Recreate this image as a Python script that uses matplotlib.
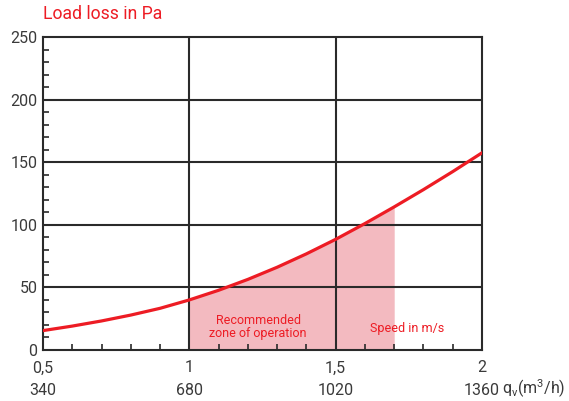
import numpy as np
import matplotlib
matplotlib.use("Agg")
from matplotlib import pyplot as plt
from matplotlib.ticker import MultipleLocator

plt.rcParams['font.family'] = ['Roboto', 'DejaVu Sans']
plt.rcParams['mathtext.fontset'] = 'custom'
plt.rcParams['mathtext.rm'] = 'Roboto'

# speed in m/s vs load loss in Pa
speed = [0.5, 0.6, 0.7, 0.8, 0.9, 1.0, 1.1, 1.2, 1.3, 1.4, 1.5, 1.6, 1.7, 1.8, 1.9, 2.0]
loss = [15.5, 19.1, 23.2, 27.9, 33.3, 40.0, 47.7, 56.4, 66.1, 76.8, 88.4, 101.0, 114.3, 128.1, 142.5, 157.5]

# recommended zone of operation
zone_lo = 1.0
zone_hi = 1.7

xticks = [0.5, 1.0, 1.5, 2.0]
xlabels = ["0,5\n340", "1\n680", "1,5\n1020", "2\n1360"]
yticks = [0, 50, 100, 150, 200, 250]

red = '#ed1c24'
pink = '#f3bac0'
dark = '#2a2a2a'
grey = '#3a3a3a'

fig = plt.figure(figsize=(5.69, 4.01), dpi=100)
ax = fig.add_axes([43/569, 1-350/401, (482-43)/569, (350-37)/401])

x = np.array(speed)
y = np.array(loss)
m = (x >= zone_lo) & (x <= zone_hi)
ax.fill_between(x[m], 0, y[m], color=pink, lw=0, zorder=1)

# grid
for gx in [1.0, 1.5]:
    ax.axvline(gx, color=dark, lw=1.5, zorder=2)
for gy in [50, 100, 150, 200]:
    ax.axhline(gy, color=dark, lw=1.5, zorder=2)

ax.plot(x, y, color=red, lw=2.3, zorder=3, solid_joinstyle='round')

ax.set_xlim(0.5, 2.0)
ax.set_ylim(0, 250)
for s in ax.spines.values():
    s.set_color(dark)
    s.set_linewidth(1.5)

ax.set_xticks(xticks)
ax.set_xticklabels(xlabels)
ax.set_yticks(yticks)
ax.xaxis.set_minor_locator(MultipleLocator(0.1))
ax.yaxis.set_minor_locator(MultipleLocator(10))
ax.tick_params(axis='both', which='major', length=0, labelsize=11.5, labelcolor=grey)
ax.tick_params(axis='x', which='major', pad=7.5)
ax.tick_params(axis='y', which='major', pad=4)
ax.tick_params(axis='both', which='minor', direction='in', length=4, width=1.2, color=dark)
for lab in ax.get_xticklabels():
    lab.set_linespacing(1.6)

fig.text(43/569, 1-14/401, "Load loss in Pa", color=red, fontsize=12.7,
         ha='left', va='center')
fig.text(502/569, 1-389/401, r"q$_\mathrm{v}$(m$^3$/h)", color=grey, fontsize=11.5,
         ha='left', va='center')

ax.text(1.235, 18, "Recommended\nzone of operation", color=red, fontsize=9,
        ha='center', va='center', linespacing=1.0, zorder=4)
ax.text(1.745, 17, "Speed in m/s", color=red, fontsize=9,
        ha='center', va='center', zorder=4)

fig.savefig("out.png", dpi=100)
